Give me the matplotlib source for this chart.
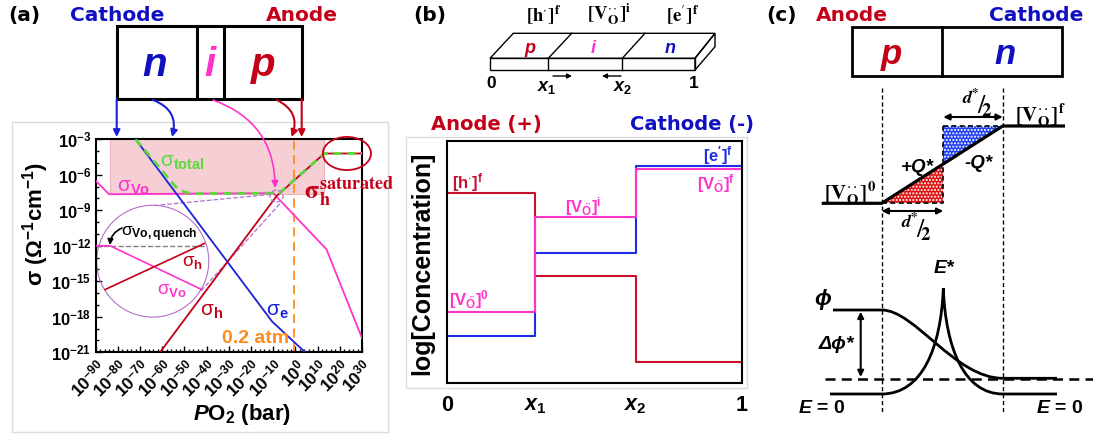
import matplotlib.pyplot as plt
import numpy as np
from matplotlib.patches import Rectangle, Ellipse, Polygon, FancyArrowPatch, PathPatch
from matplotlib.path import Path
from matplotlib.ticker import MultipleLocator
from matplotlib.transforms import ScaledTranslation

plt.rcParams['font.family'] = ['Liberation Sans', 'DejaVu Sans']
plt.rcParams['mathtext.fontset'] = 'custom'
plt.rcParams['mathtext.rm'] = 'Liberation Sans'
plt.rcParams['mathtext.it'] = 'Liberation Sans:italic:bold'
plt.rcParams['mathtext.bf'] = 'Liberation Sans:bold'

W, H = 1093, 436

BLUE = '#1a22d8'
TBLUE = '#1010c0'
RED = '#c40018'
MAG = '#ff33cc'
GREEN = '#5ad83c'
ORANGE = '#ff8c1a'
PURPLE = '#b070c8'

# (a) conductivities, log10(sigma) against log10(PO2)
po2_e = [-72, -10.5, 4.4]
sig_e = [-3, -18.4, -21]
po2_h = [-61, -8.5, 13, 30]
sig_h = [-21, -7.8, -4.2, -4.2]
po2_vo = [-90, -84, -10, 14, 30]
sig_vo = [-6.5, -7.64, -7.55, -12.3, -19.8]
po2_tot = [-72, -54, -50, -47, -10, -7, 13, 30]
sig_tot = [-3, -7.0, -7.45, -7.6, -7.55, -7.5, -4.2, -4.2]
po2_air = np.log10(0.2)
shade_po2 = [-83.5, 13]
shade_sig = [-7.64, -3]

# zoomed view of the crossing (inside the big circle)
zoom_vo_x = [-89.5, -83.5, -42.2]
zoom_vo_y = [-12, -12, -15.7]
zoom_h_x = [-85.8, -41]
zoom_h_y = [-15.7, -11.8]
quench_x = [-90, -40.7]

# (b) defect concentrations along the sample
x_edges = [0, 0.30, 0.64, 1.0]
x_labels = ['0', r'$\mathit{x}_\mathbf{1}$', r'$\mathit{x}_\mathbf{2}$', '1']
conc_h = [0.786, 0.443, 0.084]
conc_e = [0.194, 0.538, 0.898]
conc_vo = [0.294, 0.687, 0.884]

fig = plt.figure(figsize=(W / 100, H / 100), dpi=100)


def box(l, t, r, b):
    return [l / W, 1 - b / H, (r - l) / W, (b - t) / H]


# ---------------- panel (a) plot
axa = fig.add_axes(box(95.7, 139.3, 362, 352.3))
axa.add_patch(Rectangle((shade_po2[0], shade_sig[0]), shade_po2[1] - shade_po2[0],
                        shade_sig[1] - shade_sig[0], fc='#f5cfd3', ec='#ecb6bd', lw=0.8, zorder=1))
axa.plot(po2_vo, sig_vo, color=MAG, lw=1.3, zorder=3)
axa.plot(po2_e, sig_e, color=BLUE, lw=1.3, zorder=3)
axa.plot(po2_h, sig_h, color=RED, lw=1.3, zorder=3)
axa.plot(po2_tot, sig_tot, color=GREEN, lw=2, ls=(0, (3, 2)), zorder=4)
axa.axvline(po2_air, color=ORANGE, lw=1.3, ls=(0, (5, 3)), zorder=2)

axa.add_patch(Ellipse((-64.3, -13.3), 50.5, 9.45, fill=False, ec=PURPLE, lw=0.8, zorder=2))
axa.plot(quench_x, [-12, -12], color='gray', ls='--', lw=1, zorder=2)
axa.plot(zoom_vo_x, zoom_vo_y, color=MAG, lw=1.2, zorder=3)
axa.plot(zoom_h_x, zoom_h_y, color=RED, lw=1.2, zorder=3)
axa.add_patch(Ellipse((-8.5, -7.8), 5.9, 1.0, fill=False, ec=PURPLE, ls='--', lw=0.9, zorder=5))
axa.plot([-63.7, -10.8], [-8.6, -7.65], color=PURPLE, ls='--', lw=0.9, zorder=2)
axa.plot([-42.5, -6.3], [-15.8, -8.3], color=PURPLE, ls='--', lw=0.9, zorder=2)
axa.add_patch(Ellipse((23.2, -4.2), 21.7, 2.8, fill=False, ec=RED, lw=1.3, clip_on=False, zorder=5))

axa.set_xlim(-90, 30)
axa.set_ylim(-21, -3)
xt = list(range(-90, 31, 10))
axa.set_xticks(xt)
axa.set_xticklabels([r'$\mathbf{10^{%d}}$' % v for v in xt], rotation=45, ha='right', va='top',
                    rotation_mode='anchor', fontsize=12.5)
# nudge the slanted labels so the exponent ends just right of its tick
for lab in axa.get_xticklabels():
    lab.set_transform(lab.get_transform() + ScaledTranslation(0.06, -0.01, fig.dpi_scale_trans))
yt = list(range(-21, -2, 3))
axa.set_yticks(yt)
axa.set_yticklabels([r'$\mathbf{10^{%d}}$' % v for v in yt], fontsize=12)
axa.xaxis.set_minor_locator(MultipleLocator(2))
axa.yaxis.set_minor_locator(MultipleLocator(1))
axa.tick_params(which='both', direction='in', width=1, pad=3)
axa.tick_params(which='major', length=4)
axa.tick_params(which='minor', length=2)
for s in axa.spines.values():
    s.set_linewidth(1.5)

# ---------------- panel (b) plot
axb = fig.add_axes(box(446.7, 141, 741.7, 382.7))
axb.step(x_edges, conc_h + [conc_h[-1]], where='post', color='#c8102e', lw=1.5)
axb.step(x_edges, conc_e + [conc_e[-1]], where='post', color='#1f2ee6', lw=1.5)
axb.step(x_edges, conc_vo + [conc_vo[-1]], where='post', color=MAG, lw=1.5)
axb.set_xlim(0, 1)
axb.set_ylim(0, 1)
axb.set_xticks(x_edges)
axb.set_xticklabels(x_labels, fontsize=15.5, fontweight='bold')
axb.set_yticks([])
axb.tick_params(length=0, pad=9)
for s in axb.spines.values():
    s.set_linewidth(1.5)

# ---------------- overlay in pixel units for the schematics and labels
ov = fig.add_axes([0, 0, 1, 1], zorder=5)
ov.set_xlim(0, W)
ov.set_ylim(H, 0)
ov.axis('off')


def txt(x, y, s, size, color='k', **kw):
    kw.setdefault('fontweight', 'bold')
    ov.text(x, y, s, fontsize=size, color=color, ha=kw.pop('ha', 'center'),
            va=kw.pop('va', 'center'), **kw)


def arrow(p0, p1, color='k', rad=0.0, style='-|>', ms=10, lw=1.5, **kw):
    ov.add_patch(FancyArrowPatch(p0, p1, arrowstyle=style, mutation_scale=ms, color=color, lw=lw,
                                 connectionstyle='arc3,rad=%g' % rad, shrinkA=0, shrinkB=0, **kw))


HDR = ['DejaVu Sans']
# serif defect notation
H_F = r'$\mathbf{[h}^{\cdot}\mathbf{]^{f}}$'
E_F = r'$\mathbf{[e}^{\prime}\mathbf{]^{f}}$'


def vo(sup):
    return r'$\mathbf{[V}^{\cdot\cdot}_{\mathbf{O}}\mathbf{]^{%s}}$' % sup


# light frames around the two plots
ov.add_patch(Rectangle((12, 122), 376, 310, fill=False, ec='#dcdcdc', lw=1))
ov.add_patch(Rectangle((406, 137), 341, 251, fill=False, ec='#dcdcdc', lw=1))

# panel (a) header and n-i-p bar
txt(24, 20.7, '(a)', 14.5, va='baseline', family=HDR)
txt(117, 20.7, 'Cathode', 14.5, TBLUE, va='baseline', family=HDR)
txt(301.7, 20.7, 'Anode', 14.5, RED, va='baseline', family=HDR)
ov.add_patch(Rectangle((116.7, 26), 185, 73, fill=False, ec='k', lw=2.2))
ov.plot([196.7, 196.7], [26, 99], color='k', lw=2.2)
ov.plot([224, 224], [26, 99], color='k', lw=2.2)
txt(155, 76, 'n', 29, TBLUE, va='baseline', style='italic')
txt(210, 76, 'i', 29, MAG, va='baseline', style='italic')
txt(263, 76, 'p', 29, RED, va='baseline', style='italic')

arrow((116.7, 99), (116.7, 137), BLUE)
arrow((153, 100), (172, 137), BLUE, rad=-0.45)
arrow((213, 100), (275, 188), MAG, rad=-0.35, lw=1.2)
arrow((277, 100), (291.5, 137), RED, rad=-0.45)
arrow((301.7, 99), (301.7, 137), RED)

# panel (a) labels
txt(36, 224, r'σ (Ω$\mathbf{^{-1}}$cm$\mathbf{^{-1}}$)', 16, rotation=90)
txt(242, 414, r'$\mathit{P}$O$\mathbf{_2}$ (bar)', 16)
txt(182, 162, r'$\mathrm{\sigma}_\mathbf{total}$', 15, GREEN)
txt(134, 187, r'$\mathrm{\sigma}_\mathbf{Vo}$', 15, MAG)
txt(304, 192, r'$\mathbf{\sigma}_\mathbf{h}^\mathbf{saturated}$', 18.5, RED, ha='left',
    math_fontfamily='stix')
txt(212, 311, r'$\mathrm{\sigma}_\mathbf{h}$', 15, RED)
txt(277, 311, r'$\mathrm{\sigma}_\mathbf{e}$', 15, BLUE)
txt(256, 338.5, '0.2 atm', 14, ORANGE)
txt(159, 234, r'$\mathrm{\sigma}_\mathbf{Vo,quench}$', 12.5)
txt(192, 262, r'$\mathrm{\sigma}_\mathbf{h}$', 13.5, RED)
txt(172, 290, r'$\mathrm{\sigma}_\mathbf{Vo}$', 13.5, MAG)
arrow((122, 228), (110, 245), 'k', rad=0.3, lw=1.2, ms=8)

# panel (b) header, 3D bar
txt(430, 20.7, '(b)', 14.5, va='baseline', family=HDR)
txt(544, 14.5, H_F, 13.5, math_fontfamily='stix')
txt(609, 14.5, vo('i'), 13.5, math_fontfamily='stix')
txt(682.5, 14.5, E_F, 13.5, math_fontfamily='stix')
bar_lw = 1.0
ov.add_patch(Rectangle((490, 58.3), 205, 11.7, fill=False, ec='k', lw=bar_lw))
ov.add_patch(Polygon([(490, 58.3), (513.3, 33.3), (715, 33.3), (695, 58.3)], closed=True,
                     fill=False, ec='k', lw=bar_lw))
ov.add_patch(Polygon([(695, 58.3), (715, 33.3), (715, 46.7), (695, 70)], closed=True,
                     fill=False, ec='k', lw=bar_lw))
for xf, xb in [(548.3, 571.7), (622.3, 645)]:
    ov.plot([xf, xb], [58.3, 33.3], color='k', lw=bar_lw)
    ov.plot([xf, xf], [58.3, 70], color='k', lw=bar_lw)
txt(530, 53, 'p', 13, RED, va='baseline', style='italic')
txt(593, 53, 'i', 13, MAG, va='baseline', style='italic')
txt(670, 53, 'n', 13, TBLUE, va='baseline', style='italic')
txt(491, 84, '0', 12.5)
txt(547, 88, r'$\mathit{x}_\mathbf{1}$', 13)
txt(622.5, 88, r'$\mathit{x}_\mathbf{2}$', 13)
txt(693.5, 84, '1', 12.5)
arrow((553, 76), (572, 76), 'k', lw=1, ms=7)
arrow((621, 76), (602, 76), 'k', lw=1, ms=7)

txt(486.7, 124, 'Anode (+)', 14, RED, family=HDR)
txt(691.5, 124, 'Cathode (-)', 14, TBLUE, family=HDR)
txt(422.5, 263, 'log[Concentration]', 18, rotation=90)
txt(467.5, 183, r'$\mathbf{[h^{\cdot}]^{f}}$', 12, '#c8102e')
txt(469, 300, r'$\mathbf{[V_{\ddot{O}}]^{0}}$', 12, MAG)
txt(583, 206.5, r'$\mathbf{[V_{\ddot{O}}]^{i}}$', 12, MAG)
txt(717.5, 155.5, r"$\mathbf{[e^{\prime}]^{f}}$", 12, '#1f2ee6')
txt(715.5, 183.5, r'$\mathbf{[V_{\ddot{O}}]^{f}}$', 12, MAG)

# panel (c) header and p-n bar
txt(781, 20.7, '(c)', 14.5, va='baseline', family=HDR)
txt(851.7, 20.7, 'Anode', 14.5, RED, va='baseline', family=HDR)
txt(1036.5, 20.7, 'Cathode', 14.5, TBLUE, va='baseline', family=HDR)
ov.add_patch(Rectangle((851.7, 26.7), 210, 49.3, fill=False, ec='k', lw=2))
ov.plot([941.7, 941.7], [26.7, 76], color='k', lw=2)
txt(891.7, 64, 'p', 25, RED, va='baseline', style='italic')
txt(1005, 64, 'n', 25, TBLUE, va='baseline', style='italic')

# depletion zone boundaries
for xv in (881.7, 1002.7):
    ov.plot([xv, xv], [88, 412], color='k', lw=1, ls=(0, (3, 2)))

# vacancy profile and space charges
vo_x = [821.7, 881.7, 1002.7, 1065]
vo_y = [203.3, 203.3, 126, 126]
for tri, col in [([(881.7, 203.3), (943.3, 203.3), (943.3, 164.6)], '#e01010'),
                 ([(943.3, 164.6), (943.3, 126), (1002.7, 126)], '#2040f0')]:
    ov.add_patch(Polygon(tri, closed=True, fc=col, ec='none', lw=0))
    ov.add_patch(Polygon(tri, closed=True, fill=False, ec='white', hatch='.....', lw=0))
ov.plot([881.7, 943.3, 943.3], [203.3, 203.3, 126], color='k', lw=1.2, ls=(0, (3, 2)))
ov.plot([943.3, 1002.7], [126, 126], color='k', lw=1.2, ls=(0, (3, 2)))
ov.plot(vo_x, vo_y, color='k', lw=2.3, solid_capstyle='butt')

arrow((943.3, 117), (1002.7, 117), 'k', style='<|-|>', ms=9, lw=1.5)
arrow((881.7, 211), (943.3, 211), 'k', style='<|-|>', ms=9, lw=1.5)
txt(977, 103, r'$^{\mathbfit{d}^{\mathbf{*}}}\!/\!_{\mathbf{2}}$', 19, math_fontfamily='stix')
txt(916, 227, r'$^{\mathbfit{d}^{\mathbf{*}}}\!/\!_{\mathbf{2}}$', 19, math_fontfamily='stix')
txt(1040, 115, vo('f'), 15, math_fontfamily='stix')
txt(850, 193, vo('0'), 15, math_fontfamily='stix')
txt(917, 167, '+Q*', 13.5, style='italic')
txt(979, 163, '-Q*', 13.5, style='italic')

# potential and field across the junction
ov.plot([825, 1093], [379, 379], color='k', lw=1.8, ls=(0, (4, 2.5)))
phi_path = Path([(833, 310), (881.7, 310), (915, 310), (955, 378.3), (1003, 378.3), (1057, 378.3)],
                [Path.MOVETO, Path.LINETO, Path.CURVE4, Path.CURVE4, Path.CURVE4, Path.LINETO])
e_path = Path([(830, 394), (881.7, 394), (922, 394), (941, 348), (943.3, 288.3),
               (945.6, 348), (964, 394), (1003, 394), (1057, 394)],
              [Path.MOVETO, Path.LINETO, Path.CURVE4, Path.CURVE4, Path.CURVE4,
               Path.CURVE4, Path.CURVE4, Path.CURVE4, Path.LINETO])
ov.add_patch(PathPatch(phi_path, fill=False, ec='k', lw=2))
ov.add_patch(PathPatch(e_path, fill=False, ec='k', lw=2))
arrow((860.7, 311.7), (860.7, 377), 'k', style='<|-|>', ms=9, lw=1.5)
txt(822.5, 299, 'ϕ', 16, style='italic')
txt(836, 344, 'Δϕ*', 14, style='italic')
txt(944, 268, 'E*', 14, style='italic')
txt(821.7, 408, r'$\mathit{E}$ = 0', 14)
txt(1060, 408, r'$\mathit{E}$ = 0', 14)

fig.savefig('out.png', dpi=100)
